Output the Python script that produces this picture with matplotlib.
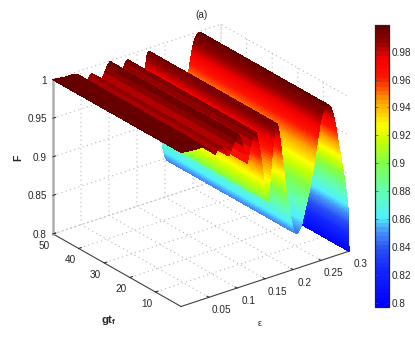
import numpy as np
import matplotlib
matplotlib.use('Agg')
import matplotlib.pyplot as plt
from matplotlib import cm
from matplotlib.colors import Normalize, LinearSegmentedColormap
from matplotlib.text import Text
from matplotlib.transforms import Affine2D
from mpl_toolkits.mplot3d import proj3d

plt.rcParams['font.family'] = ['Liberation Sans', 'DejaVu Sans']
plt.rcParams['mathtext.fontset'] = 'custom'
plt.rcParams['mathtext.bf'] = 'Liberation Sans:bold'
plt.rcParams['mathtext.rm'] = 'Liberation Sans'

# Data: F along epsilon (practically constant along gt_f)
eps_coarse = [0, .005, .01, .015, .02, .025, .03, .035, .04, .045, .05, .055, .061, .065, .069,
              .073, .077, .081, .085, .089, .093, .097, .102,
              .106, .110, .114, .118, .121, .124, .127, .130, .133]
eps_fine = [round(.134 + .0005 * i, 4) for i in range(329)]
eps_end = [.2981, .2982, .2983, .2984, .2985, .2986, .2987, .2988, .2989, .299,
           .2991, .2992, .2993, .2994, .2995, .2996, .2997, .2998, .3]
eps_values = eps_coarse + eps_fine + eps_end
F_profile = [1.0, .9995, .999, .9985, .998, .998, .998, .998, .997, .995, .992, .988, .983, .988, .991,
             .989, .985, .980, .975, .981, .988, .994, .999,
             .993, .983, .971, .958, .968, .978, .986, .992, .994,
             # .134 to .155
             .993, .992, .991, .9895, .988, .9865, .985, .983, .981, .979, .977, .9745, .972, .9695, .967, .9645,
             .962, .959, .956, .9535, .951, .948, .945, .942, .939, .9365, .934, .931, .928, .9255, .923, .9205,
             .918, .9155, .913, .911, .909, .907, .905, .9035, .902, .901, .900,
             # .1555 to .171
             .903, .906, .909, .912, .916, .920, .924, .928, .9325, .937, .941, .945, .949, .953, .9565, .960,
             .964, .968, .9715, .975, .978, .981, .984, .987, .989, .991, .9925, .994, .9945, .995, .9955, .996,
             # .1715 to .207
             .995, .994, .993, .992, .990, .988, .9855, .983, .9805, .978, .975, .972, .969, .966, .963, .960,
             .9565, .953, .950, .947, .944, .941, .938, .935, .932, .929, .926, .923, .920, .917, .914, .911,
             .908, .905, .9025, .900, .8975, .895, .8925, .890, .8875, .885, .8825, .880, .8775, .875, .873, .871,
             .869, .867, .865, .863, .8615, .860, .8585, .857, .8555, .854, .8525, .851, .850, .849, .8485, .848,
             .8475, .847, .8465, .846, .8457, .8455, .8452, .845,
             # .2075 to .261
             .8455, .846, .8465, .847, .8475, .848, .8485, .849, .8495, .850, .851, .852, .8525, .853, .854, .855,
             .856, .857, .8585, .860, .8615, .863, .8645, .866, .8675, .869, .8705, .872, .8735, .875, .8765, .878,
             .8795, .881, .8825, .884, .8855, .887, .8885, .890, .8915, .893, .8945, .896, .8975, .899, .901, .903,
             .905, .907, .909, .911, .913, .915, .917, .919, .921, .923, .925, .927, .929, .931, .9335, .936,
             .938, .940, .9425, .945, .947, .949, .9515, .954, .9565, .959, .9615, .964, .966, .968, .9705, .973,
             .975, .977, .979, .981, .9825, .984, .9855, .987, .988, .989, .990, .991, .992, .993, .9935, .994,
             .9945, .995, .9955, .996, .9965, .997, .9975, .998, .9982, .9985, .9988, .999,
             # .2615 to .298
             .9988, .9985, .9982, .998, .9978, .9975, .9972, .997, .9965, .996, .9955, .995, .994, .993, .992, .991,
             .990, .989, .9875, .986, .9845, .983, .9815, .980, .978, .976, .974, .972, .970, .968, .966, .964,
             .9615, .959, .9565, .954, .9515, .949, .9465, .944, .942, .940, .9375, .935, .933, .931, .9285, .926,
             .924, .922, .9195, .917, .915, .913, .9105, .908, .906, .904, .9015, .899, .8965, .894, .8915, .889,
             .8865, .884, .881, .878, .8745, .871, .8675, .864, .8605, .857,
             # .2981 to .3
             .854, .851, .848, .845, .842, .839, .836, .833, .830, .827,
             .824, .821, .818, .815, .812, .809, .806, .803, .80]
gt_values = [0, 2, 4, 6, 8, 10, 12, 14, 16, 18, 20, 22, 24, 26, 28, 30, 32, 34, 36, 38, 40, 42, 44, 46, 48, 50]

x_ticks = [.05, .1, .15, .2, .25, .3]
x_labels = ['0.05', '0.1', '0.15', '0.2', '0.25', '0.3']
y_ticks = [10, 20, 30, 40, 50]
y_labels = ['10', '20', '30', '40', '50']
z_ticks = [.8, .85, .9, .95, 1]
z_labels = ['0.8', '0.85', '0.9', '0.95', '1']
cb_ticks = [.8, .82, .84, .86, .88, .9, .92, .94, .96, .98]
cb_labels = ['0.8', '0.82', '0.84', '0.86', '0.88', '0.9', '0.92', '0.94', '0.96', '0.98']

color_stops = [(0, '#0000ff'), (.13, '#1428ff'), (.2, '#2850f5'), (.265, '#4696fa'), (.315, '#50f0ff'),
               (.415, '#64ffaa'), (.513, '#82ff46'), (.59, '#c8ff00'), (.645, '#ffff00'), (.733, '#ffa000'),
               (.82, '#ff1400'), (.89, '#f00000'), (.945, '#960000'), (1, '#640000')]

W, H = 415, 346
TXT = '#262626'
FS = 7.2

fig = plt.figure(figsize=(W / 100, H / 100), dpi=100)
ax = fig.add_axes([0, 0, 1, W / H * 1.0], projection='3d', proj_type='ortho')
ax.view_init(elev=25.6, azim=-127.3)
ax.set_box_aspect((1, 1, .81))
ax.set_xlim(0, .3, view_margin=0)
ax.set_ylim(0, 50, view_margin=0)
ax.set_zlim(.8, 1, view_margin=0)

cmap = LinearSegmentedColormap.from_list('surf', color_stops, N=256)
norm = Normalize(.7976, .999)

E, G = np.meshgrid(eps_values, gt_values)
Z = np.tile(F_profile, (len(gt_values), 1))
surf = ax.plot_surface(E, G, Z, cmap=cmap, norm=norm, rstride=1, cstride=1,
                       linewidth=0.25, antialiased=False, shade=False)
surf.set_edgecolor('face')

for axis in (ax.xaxis, ax.yaxis, ax.zaxis):
    axis.set_pane_color((1, 1, 1, 0))
    axis.pane.set_edgecolor((1, 1, 1, 0))
    axis._axinfo['grid'].update(color='#b8b8b8', linestyle=(0, (1, 3)), linewidth=0.8)
    axis._axinfo['tick']['inward_factor'] = 0.0
    axis._axinfo['tick']['outward_factor'] = 0.2
    axis._axinfo['tick'].update(linewidth={True: .7, False: .5}, color=TXT)
    axis.line.set_color('#404040')
    axis.line.set_linewidth(0.8)
ax.zaxis.line.set_color('#b0b0b0')
ax.zaxis.line.set_linewidth(1.8)

ax.set_xticks(x_ticks, x_labels)
ax.set_yticks(y_ticks, y_labels)
ax.set_zticks(z_ticks, z_labels)
ax.tick_params(labelsize=FS, labelcolor=TXT, colors=TXT, pad=-3)
ax.tick_params(axis='z', pad=-1)

def shift(labels, dx, dy, ha=None):
    # Axis3D resets tick label transforms on every draw, so the offset one is pinned
    for lab in labels:
        Text.set_transform(lab, ax.transData + Affine2D().translate(dx, dy))
        lab.set_transform = lambda t: None
        if ha:
            lab.set_ha(ha)

shift(ax.get_xticklabels(), 7, 1)
shift(ax.get_yticklabels(), -2, 1.5)
shift(ax.get_zticklabels(), 10.5, 3, 'right')

# Place the box so that its corners fall where they do in the reference
def proj(x, y, z):
    a, b, _ = proj3d.proj_transform(x, y, z, ax.get_proj())
    return ax.transLimits.transform((a, b))

f0 = proj(0, 0, .8)
f1 = proj(.3, 0, .8)
side = (349 - 181) / (f1[0] - f0[0])
x0 = 181 - side * f0[0]
y0 = (346 - 306.5) - side * f0[1]
ax.set_position([x0 / W, y0 / H, side / W, side / H])

fig.text(201 / W, 1 - 14.5 / H, '(a)', fontsize=FS, color=TXT, ha='center', va='center')
fig.text(18 / W, 1 - 158 / H, 'F', fontsize=7.5, fontweight='bold', color=TXT, rotation=90, ha='center', va='center')
fig.text(109 / W, 1 - 320 / H, r'$\mathbf{gt_f}$', fontsize=8.2, color=TXT, ha='center', va='center')
fig.text(260 / W, 1 - 324 / H, 'ε', fontsize=6.5, color=TXT, ha='center', va='center')

cax = fig.add_axes([374.5 / W, 1 - 306.5 / H, 14 / W, 281.5 / H])
sm = cm.ScalarMappable(norm=norm, cmap=LinearSegmentedColormap.from_list('bar', color_stops, N=64))
cb = fig.colorbar(sm, cax=cax)
cb.set_ticks(cb_ticks, labels=cb_labels)
cb.ax.tick_params(labelsize=FS, labelcolor=TXT, length=1.8, width=.5, direction='in', color='#505050', pad=2, right=True, left=True)
cb.outline.set_edgecolor('#202020')
cb.outline.set_linewidth(.9)

fig.savefig('out.png', dpi=100)
